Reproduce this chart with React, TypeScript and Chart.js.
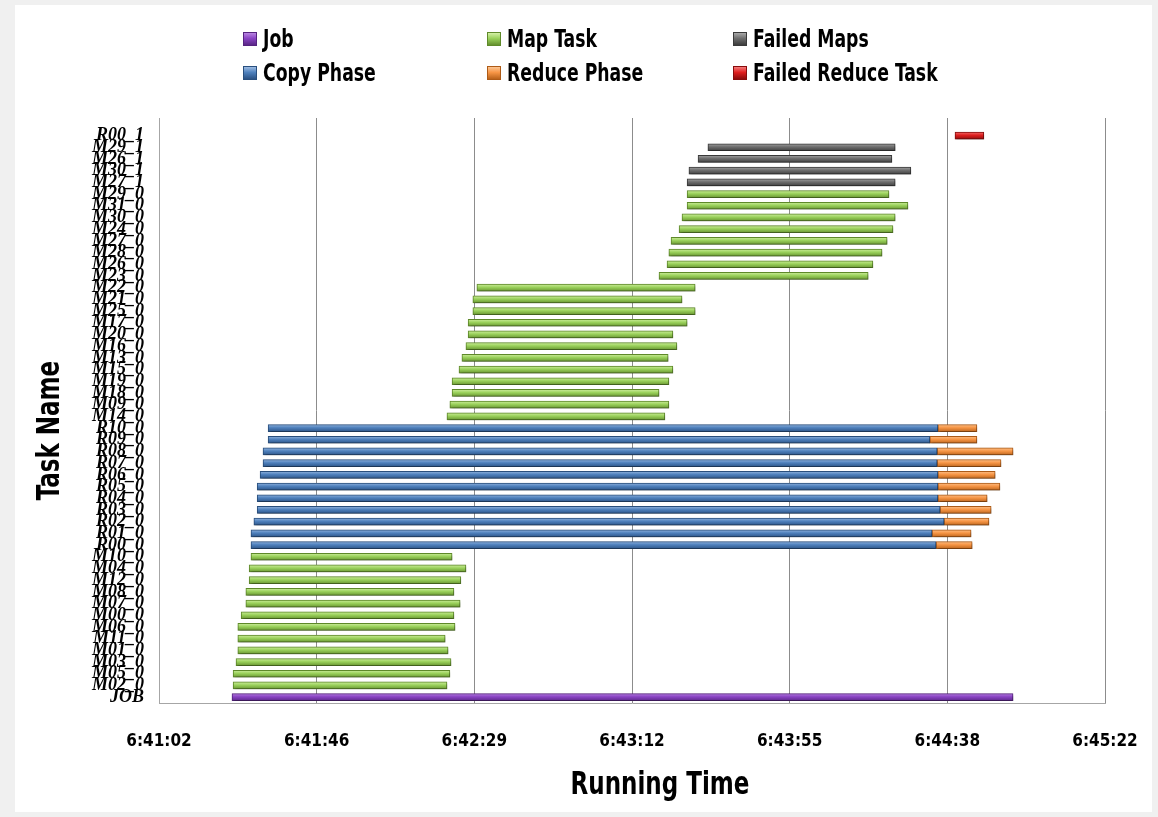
import React, { useEffect, useRef } from 'react';
import { Chart, registerables } from 'chart.js';

Chart.register(...registerables);

// Task rows, top to bottom (first slot is an empty spacer row, as in the original)
const taskNames = [
  '', 'R00_1', 'M29_1', 'M26_1', 'M30_1', 'M27_1',
  'M29_0', 'M31_0', 'M30_0', 'M24_0', 'M27_0', 'M28_0', 'M26_0', 'M23_0',
  'M22_0', 'M21_0', 'M25_0', 'M17_0', 'M20_0', 'M16_0', 'M13_0', 'M15_0', 'M19_0', 'M18_0', 'M09_0', 'M14_0',
  'R10_0', 'R09_0', 'R08_0', 'R07_0', 'R06_0', 'R05_0', 'R04_0', 'R03_0', 'R02_0', 'R01_0', 'R00_0',
  'M10_0', 'M04_0', 'M12_0', 'M08_0', 'M07_0', 'M00_0', 'M06_0', 'M11_0', 'M01_0', 'M03_0', 'M05_0', 'M02_0',
  'JOB',
];

// Time axis: seconds after 6:41:02 (ticks every 43.2 s)
const tickValues = [0, 43.2, 86.4, 129.6, 172.8, 216.0, 259.2];
const tickLabels = ['6:41:02', '6:41:46', '6:42:29', '6:43:12', '6:43:55', '6:44:38', '6:45:22'];

const jobTasks = ['JOB'];
const jobStart = [20.0];
const jobEnd = [234.0];

const mapTasks = [
  'M29_0', 'M31_0', 'M30_0', 'M24_0', 'M27_0', 'M28_0', 'M26_0', 'M23_0',
  'M22_0', 'M21_0', 'M25_0', 'M17_0', 'M20_0', 'M16_0', 'M13_0', 'M15_0', 'M19_0', 'M18_0', 'M09_0', 'M14_0',
  'M10_0', 'M04_0', 'M12_0', 'M08_0', 'M07_0', 'M00_0', 'M06_0', 'M11_0', 'M01_0', 'M03_0', 'M05_0', 'M02_0',
];
const mapStart = [
  144.7, 144.7, 143.3, 142.5, 140.3, 139.7, 139.2, 137.0,
  87.1, 86.0, 86.0, 84.7, 84.7, 84.1, 83.0, 82.2, 80.3, 80.3, 79.7, 78.9,
  25.2, 24.7, 24.7, 23.8, 23.8, 22.5, 21.6, 21.6, 21.6, 21.1, 20.3, 20.3,
];
const mapEnd = [
  200.0, 205.2, 201.7, 201.1, 199.5, 198.1, 195.6, 194.3,
  146.9, 143.3, 146.9, 144.7, 140.8, 141.9, 139.5, 140.8, 139.7, 137.0, 139.7, 138.6,
  80.3, 84.1, 82.7, 80.8, 82.5, 80.8, 81.1, 78.4, 79.2, 80.0, 79.7, 78.9,
];

const failedMapTasks = ['M29_1', 'M26_1', 'M30_1', 'M27_1'];
const failedMapStart = [150.4, 147.7, 145.2, 144.7];
const failedMapEnd = [201.7, 200.8, 206.0, 201.7];

const copyTasks = ['R10_0', 'R09_0', 'R08_0', 'R07_0', 'R06_0', 'R05_0', 'R04_0', 'R03_0', 'R02_0', 'R01_0', 'R00_0'];
const copyStart = [29.9, 29.9, 28.5, 28.5, 27.7, 26.9, 26.9, 26.9, 26.0, 25.2, 25.2];
const copyEnd = [213.4, 211.2, 213.2, 213.2, 213.4, 213.4, 213.4, 214.0, 215.1, 211.8, 212.9];

const reduceTasks = ['R10_0', 'R09_0', 'R08_0', 'R07_0', 'R06_0', 'R05_0', 'R04_0', 'R03_0', 'R02_0', 'R01_0', 'R00_0'];
const reduceStart = [213.4, 211.2, 213.2, 213.2, 213.4, 213.4, 213.4, 214.0, 215.1, 211.8, 212.9];
const reduceEnd = [224.1, 224.1, 234.0, 230.7, 229.1, 230.4, 226.9, 228.0, 227.4, 222.5, 222.8];

const failedReduceTasks = ['R00_1'];
const failedReduceStart = [218.1];
const failedReduceEnd = [226.0];

const SANS = '"Liberation Sans Narrow", "DejaVu Sans Condensed", "Arial Narrow", sans-serif';
const SERIF = '"Liberation Serif", "DejaVu Serif", serif';

type Stops = [string, string, string];
const series: { label: string; stops: Stops; border: string }[] = [
  { label: 'Job', stops: ['#b884e0', '#8a44c4', '#5a2786'], border: '#55237f' },
  { label: 'Map Task', stops: ['#d4f0a6', '#9bd25c', '#64902e'], border: '#5f8a2a' },
  { label: 'Failed Maps', stops: ['#a8a8a8', '#6e6e6e', '#3c3c3c'], border: '#3a3a3a' },
  { label: 'Copy Phase', stops: ['#9cbbe2', '#4f81bd', '#2b5284'], border: '#294f7e' },
  { label: 'Reduce Phase', stops: ['#fcc592', '#f79646', '#b9621a'], border: '#ae5b17' },
  { label: 'Failed Reduce Task', stops: ['#f47a7a', '#e01f1f', '#8c0c0c'], border: '#880c0c' },
];

function rows(tasks: string[], start: number[], end: number[]) {
  const data: ([number, number] | null)[] = taskNames.map(() => null);
  tasks.forEach((t, i) => {
    data[taskNames.indexOf(t)] = [start[i], end[i]];
  });
  return data;
}

function barFill(stops: Stops) {
  return (ctx: any) => {
    const chart = ctx.chart;
    const y = chart && chart.scales && chart.scales.y;
    if (!y || ctx.type !== 'data' || typeof ctx.dataIndex !== 'number') return stops[1];
    const c = y.getPixelForValue(ctx.dataIndex);
    if (!Number.isFinite(c)) return stops[1];
    const g = chart.ctx.createLinearGradient(0, c - 4, 0, c + 4);
    g.addColorStop(0, stops[0]);
    g.addColorStop(0.45, stops[1]);
    g.addColorStop(1, stops[2]);
    return g;
  };
}

const barShadow = {
  id: 'barShadow',
  beforeDatasetsDraw(chart: any) {
    const c = chart.ctx;
    c.save();
    c.shadowColor = 'rgba(0,0,0,0.35)';
    c.shadowBlur = 3;
    c.shadowOffsetX = 1;
    c.shadowOffsetY = 2;
  },
  afterDatasetsDraw(chart: any) {
    chart.ctx.restore();
  },
};

const axisTitles = {
  id: 'axisTitles',
  afterDraw(chart: any) {
    const { ctx, chartArea } = chart;
    ctx.save();
    ctx.fillStyle = '#000';
    ctx.font = `bold 32px ${SANS}`;
    ctx.textAlign = 'center';
    ctx.textBaseline = 'middle';
    ctx.save();
    ctx.translate((chartArea.left + chartArea.right) / 2 + 28, chartArea.bottom + 83);
    ctx.scale(0.8, 1);
    ctx.fillText('Running Time', 0, 0);
    ctx.restore();
    ctx.translate(51, (chartArea.top + chartArea.bottom) / 2 + 20);
    ctx.rotate(-Math.PI / 2);
    ctx.scale(0.8, 1);
    ctx.fillText('Task Name', 0, 0);
    ctx.restore();
  },
};

const legendPos = [
  { left: 243, top: 39 },
  { left: 487, top: 39 },
  { left: 733, top: 39 },
  { left: 243, top: 73 },
  { left: 487, top: 73 },
  { left: 733, top: 73 },
];

export default function App() {
  const ref = useRef<HTMLCanvasElement>(null);

  useEffect(() => {
    const dataSets = [
      rows(jobTasks, jobStart, jobEnd),
      rows(mapTasks, mapStart, mapEnd),
      rows(failedMapTasks, failedMapStart, failedMapEnd),
      rows(copyTasks, copyStart, copyEnd),
      rows(reduceTasks, reduceStart, reduceEnd),
      rows(failedReduceTasks, failedReduceStart, failedReduceEnd),
    ];
    const chart = new Chart(ref.current as HTMLCanvasElement, {
      type: 'bar',
      data: {
        labels: taskNames,
        datasets: series.map((s, i) => ({
          label: s.label,
          data: dataSets[i] as any,
          backgroundColor: barFill(s.stops) as any,
          borderColor: s.border,
          borderWidth: 1,
          borderSkipped: false,
          barThickness: 7,
          grouped: false,
        })),
      },
      options: {
        responsive: false,
        animation: false,
        indexAxis: 'y',
        layout: { padding: { left: 20, right: 53, top: 118, bottom: 10 } },
        plugins: {
          legend: { display: false },
          tooltip: { enabled: false },
        },
        scales: {
          x: {
            type: 'linear',
            position: 'bottom',
            min: 0,
            max: 259.2,
            z: 1,
            afterBuildTicks: (s: any) => {
              s.ticks = tickValues.map((v) => ({ value: v }));
            },
            afterFit: (s: any) => {
              s.height = 104;
              s.paddingLeft = 0;
              s.paddingRight = 0;
            },
            ticks: {
              autoSkip: false,
              maxRotation: 0,
              padding: 28,
              color: '#000',
              font: { family: SANS, size: 17, weight: 'bold' },
              callback: (_v: any, i: number) => tickLabels[i],
            },
            grid: { color: '#8c8c8c', lineWidth: 1, drawTicks: false },
            border: { display: true, color: '#a6a6a6' },
          },
          y: {
            type: 'category',
            afterFit: (s: any) => {
              s.width = 139;
            },
            ticks: {
              autoSkip: false,
              padding: 15,
              color: '#000',
              font: { family: SERIF, size: 18, style: 'italic', weight: 'bold' },
            },
            grid: { display: false, drawTicks: false },
            border: { display: true, color: '#a6a6a6' },
          },
        },
      } as any,
      plugins: [barShadow, axisTitles],
    });
    return () => chart.destroy();
  }, []);

  return (
    <div
      style={{
        position: 'absolute',
        left: 0,
        top: 0,
        width: 1158,
        height: 817,
        background: '#f0f0f0',
        overflow: 'hidden',
      }}
    >
      <div style={{ position: 'absolute', left: 15, top: 5, width: 1137, height: 807, background: '#ffffff' }} />
      <canvas
        ref={ref}
        width={1158}
        height={817}
        style={{ position: 'absolute', left: 0, top: 0, width: 1158, height: 817 }}
      />
      {series.map((s, i) => (
        <div
          key={s.label}
          style={{
            position: 'absolute',
            left: legendPos[i].left,
            top: legendPos[i].top - 14,
            height: 28,
            display: 'flex',
            alignItems: 'center',
            whiteSpace: 'nowrap',
            fontFamily: SANS,
            fontWeight: 'bold',
            fontSize: 24,
            color: '#000',
          }}
        >
          <span
            style={{
              display: 'inline-block',
              width: 14,
              height: 14,
              marginRight: 6,
              background: `linear-gradient(${s.stops[0]}, ${s.stops[1]} 45%, ${s.stops[2]})`,
              border: `1px solid ${s.border}`,
              boxSizing: 'border-box',
              flex: 'none',
            }}
          />
          <span style={{ display: 'inline-block', transform: 'scaleX(0.8)', transformOrigin: 'left center' }}>
            {s.label}
          </span>
        </div>
      ))}
    </div>
  );
}
